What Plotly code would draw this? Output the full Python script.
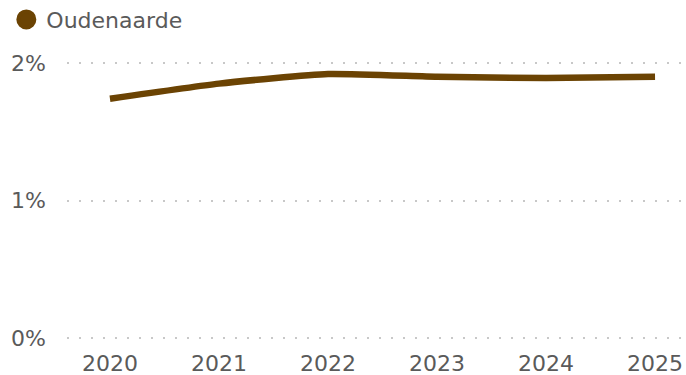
import plotly.graph_objects as go

years = [2020, 2021, 2022, 2023, 2024, 2025]
oudenaarde = [1.74, 1.85, 1.92, 1.90, 1.89, 1.90]
series_name = "Oudenaarde"
y_ticks = [0, 1, 2]
y_tick_labels = ["0%", "1%", "2%"]

color = "#6b4303"
font_color = "#5a5a5a"

fig = go.Figure()
fig.add_trace(go.Scatter(
    x=years, y=oudenaarde, mode="lines", showlegend=False,
    line=dict(color=color, width=6.5, shape="spline", smoothing=0.5),
    hoverinfo="x+y",
))
fig.add_trace(go.Scatter(
    x=[None], y=[None], mode="markers", name=series_name,
    marker=dict(color=color, size=16, symbol="circle", line=dict(color=color, width=4)),
))

fig.update_layout(
    template="none",
    width=686, height=375,
    margin=dict(l=67, r=0, t=50, b=33, autoexpand=False),
    paper_bgcolor="white", plot_bgcolor="white",
    font=dict(family="DejaVu Sans", size=22, color=font_color),
    showlegend=True,
    legend=dict(orientation="h", x=-0.098, xanchor="left", y=1.176, yanchor="top",
                font=dict(size=22, color=font_color), bgcolor="rgba(0,0,0,0)",
                itemwidth=30, tracegroupgap=0),
    xaxis=dict(range=[2019.606, 2025.284], tickvals=years, ticktext=[str(y) for y in years],
               showgrid=False, zeroline=False, showline=False, ticks="", automargin=False,
               ticklabelstandoff=6, tickfont=dict(size=22, color=font_color)),
    yaxis=dict(range=[-0.0291, 2.0945], tickvals=y_ticks, ticktext=y_tick_labels,
               showgrid=True, gridcolor="#c8c8c8", gridwidth=2, griddash="2px,10px",
               zeroline=False, showline=False, ticks="", ticklabelstandoff=20, automargin=False,
               tickfont=dict(size=22, color=font_color)),
)
fig.write_html("out.html", config={"displayModeBar": False},
               post_script="document.body.style.margin='0';document.body.style.overflow='hidden';")
